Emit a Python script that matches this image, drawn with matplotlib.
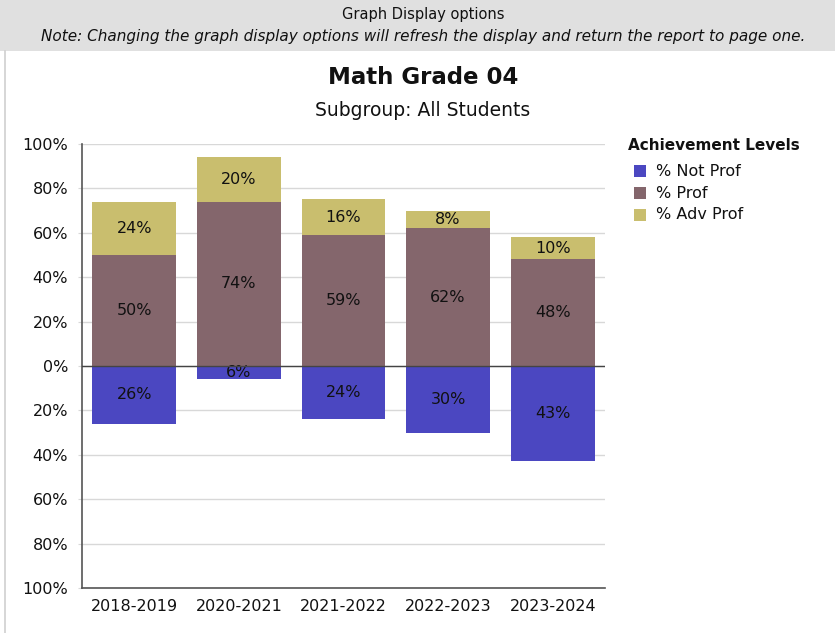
import matplotlib
matplotlib.use("Agg")
import matplotlib.pyplot as plt
from matplotlib.patches import Rectangle
import numpy as np

years = ["2018-2019", "2020-2021", "2021-2022", "2022-2023", "2023-2024"]
not_prof = [26, 6, 24, 30, 43]
prof = [50, 74, 59, 62, 48]
adv_prof = [24, 20, 16, 8, 10]

c_not = "#4b47c1"
c_prof = "#84666c"
c_adv = "#c9be6e"

W, H = 835, 633
fig = plt.figure(figsize=(W / 100, H / 100), dpi=100)
fig.patch.set_facecolor("white")

# header band
fig.patches.append(Rectangle((0, 1 - 51 / H), 1, 51 / H, transform=fig.transFigure,
                             facecolor="#e0e0e0", edgecolor="none", zorder=0))
fig.lines.append(plt.Line2D([5 / W, 5 / W], [0, 1 - 51 / H], transform=fig.transFigure,
                            color="#d0d0d0", lw=1.2))
fig.text(423 / W, 1 - 15 / H, "Graph Display options", ha="center", va="center",
         fontsize=10.5, color="#111111")
fig.text(423 / W, 1 - 36 / H,
         "Note: Changing the graph display options will refresh the display and return the report to page one.",
         ha="center", va="center", fontsize=11, style="italic", color="#111111")

fig.text(423 / W, 1 - 77 / H, "Math Grade 04", ha="center", va="center",
         fontsize=16.5, fontweight="bold", color="#111111")
fig.text(423 / W, 1 - 111 / H, "Subgroup: All Students", ha="center", va="center",
         fontsize=13.5, color="#111111")

left, right, top, bottom = 82, 605, 144, 588
ax = fig.add_axes([left / W, 1 - bottom / H, (right - left) / W, (bottom - top) / H])
x = np.arange(len(years))
bw = 0.8

neg = -np.array(not_prof)
pr = np.array(prof)
ad = np.array(adv_prof)
ax.bar(x, neg, bw, color=c_not, zorder=2, label="% Not Prof")
ax.bar(x, pr, bw, color=c_prof, zorder=2, label="% Prof")
ax.bar(x, ad, bw, bottom=pr, color=c_adv, zorder=2, label="% Adv Prof")

for i in range(len(years)):
    ax.text(x[i], neg[i] / 2, f"{not_prof[i]}%", ha="center", va="center", fontsize=11.5,
            color="#111111", zorder=3)
    ax.text(x[i], pr[i] / 2, f"{prof[i]}%", ha="center", va="center", fontsize=11.5,
            color="#111111", zorder=3)
    ax.text(x[i], pr[i] + ad[i] / 2, f"{adv_prof[i]}%", ha="center", va="center", fontsize=11.5,
            color="#111111", zorder=3)

ax.set_xlim(-0.5, len(years) - 0.5)
ax.set_ylim(-100, 100)
yt = np.arange(-100, 101, 20)
ax.set_yticks(yt)
ax.set_yticklabels([f"{abs(v)}%" for v in yt], fontsize=11.5, color="#111111")
ax.set_xticks(x)
ax.set_xticklabels(years, fontsize=11.5, color="#111111")
ax.tick_params(axis="y", length=3, color="#d8d8d8", pad=7)
ax.tick_params(axis="x", length=0, pad=8)
ax.grid(axis="y", color="#d8d8d8", lw=1, zorder=0)
ax.axhline(0, color="#444444", lw=1, zorder=4)
for s in ["top", "right"]:
    ax.spines[s].set_visible(False)
for s in ["left", "bottom"]:
    ax.spines[s].set_color("#555555")
    ax.spines[s].set_linewidth(1.2)

# legend
fig.text(628 / W, 1 - 146 / H, "Achievement Levels", ha="left", va="center",
         fontsize=11, fontweight="bold", color="#111111")
for j, (lab, col) in enumerate([("% Not Prof", c_not), ("% Prof", c_prof), ("% Adv Prof", c_adv)]):
    yc = 171 + 22 * j
    fig.patches.append(Rectangle((634 / W, 1 - (yc + 6) / H), 12 / W, 12 / H,
                                 transform=fig.transFigure, facecolor=col, edgecolor="none"))
    fig.text(656 / W, 1 - yc / H, lab, ha="left", va="center", fontsize=11.5, color="#111111")

fig.savefig("out.png", dpi=100)
